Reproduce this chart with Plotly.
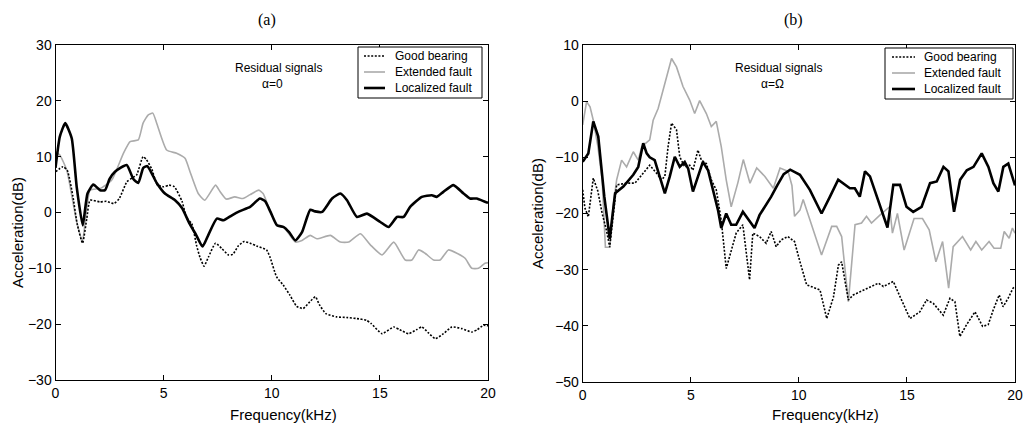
import plotly.graph_objects as go

# ---- (a) residual signals, alpha = 0 ----
fa_good = [0, 0.35, 0.55, 0.8, 1.0, 1.25, 1.45, 1.6, 2.05, 2.35, 2.7, 2.95, 3.3, 3.55, 3.75, 4.05, 4.2,
           4.45, 4.7, 5.0, 5.25, 5.5, 5.85, 6.07, 6.3, 6.53, 6.68, 6.87, 7.07, 7.4, 7.7, 8.0, 8.2, 8.45,
           8.72, 9.0, 9.3, 9.76, 9.92, 10.22, 10.53, 10.84, 11.15, 11.45, 11.76, 12.02, 12.2, 12.5, 13.0,
           13.46, 13.94, 14.38, 14.6, 15.1, 15.64, 15.92, 16.33, 16.69, 16.94, 17.23, 17.56, 17.94,
           18.33, 18.79, 19.25, 19.5, 19.79, 20]
a_good = [7.3, 8.2, 7.5, 3, -2, -5.5, -1, 2.2, 1.9, 2.0, 1.6, 2.5, 5.5, 6.2, 6.7, 10.0, 9.5,
          7.8, 5.0, 4.6, 4.9, 4.6, 2.0, -1, -2, -6, -8, -9.6, -8, -5.5, -6.5, -7.6, -7.5, -6,
          -5.2, -5.5, -6, -6.7, -8, -11.5, -13, -14.8, -16.8, -17.2, -16, -15.1, -16.5, -18.1, -18.7,
          -18.8, -19.0, -19.3, -19.9, -21.7, -20.5, -21.0, -21.7, -21.0, -20.5, -21.5, -22.6, -21.7,
          -20.5, -20.8, -21.4, -21.0, -20.2, -20.3]

fa_ext = [0, 0.2, 0.52, 0.8, 1.0, 1.25, 1.6, 2.06, 2.6, 3.14, 3.45, 3.83, 4.05, 4.29, 4.5, 4.68, 5.14,
          5.6, 5.99, 6.22, 6.6, 6.9, 7.4, 7.6, 7.9, 8.29, 8.67, 9.0, 9.4, 9.6, 9.93, 10.24, 10.55,
          11.09, 11.4, 11.78, 12.09, 12.71, 13.17, 13.56, 14.1, 14.56, 15.1, 15.64, 16.17, 16.48,
          16.79, 17.09, 17.48, 17.79, 18.17, 18.56, 18.94, 19.25, 19.56, 19.86, 20]
a_ext = [10.9, 10.3, 7.6, 2, -2, -5, 4.0, 4.3, 5.8, 10.6, 12.7, 13.0, 16.0, 17.5, 17.8, 16.0, 11.2,
         10.6, 9.7, 7.3, 3.4, 2.2, 4.9, 3.8, 2.4, 2.8, 2.5, 3.2, 4.0, 3.4, 0.2, -2.3, -2.6,
         -5.3, -5.0, -4.1, -4.7, -4.1, -5.3, -5.3, -3.8, -5.8, -7.6, -5.3, -8.5, -8.5,
         -6.7, -7.3, -8.5, -8.5, -6.7, -7.3, -8.2, -10.0, -10.0, -9.1, -9.0]

fa_loc = [0, 0.2, 0.45, 0.75, 0.98, 1.26, 1.48, 1.75, 2.06, 2.29, 2.5, 2.75, 3.29, 3.6, 3.83, 4.06,
          4.25, 4.68, 5.06, 5.53, 5.85, 6.2, 6.5, 6.8, 7.07, 7.46, 7.77, 8.16, 8.5, 9.0, 9.45, 9.7,
          9.93, 10.24, 10.55, 10.8, 11.09, 11.4, 11.78, 12.0, 12.33, 12.79, 13.17, 13.48, 13.94,
          14.4, 15.02, 15.4, 15.79, 16.1, 16.4, 16.94, 17.4, 17.63, 17.94, 18.4, 18.87, 19.17,
          19.48, 19.94, 20]
a_loc = [8.0, 13.6, 16.0, 13.3, 4.6, -2.3, 3.4, 5.0, 4.0, 4.0, 6.0, 7.3, 8.5, 6.0, 5.3, 8.0,
         8.3, 5.3, 3.4, 2.2, 0.8, -2, -4, -6.1, -4, -1.1, -1.4, -0.5, 0.2, 1.0, 2.5, 2.0,
         0.2, -2.3, -2.6, -3.5, -5.0, -3.5, 0.5, 0.2, 0.1, 2.5, 3.4, 2.2, -0.8,
         -0.2, -1.7, -2.6, -0.8, -0.8, 1.0, 2.8, 3.1, 2.8, 3.7, 4.9, 3.4, 2.5,
         2.5, 1.8, 1.8]

# ---- (b) residual signals, alpha = Omega ----
fb_good = [0, 0.1, 0.26, 0.49, 0.7, 0.9, 1.1, 1.25, 1.57, 2.03, 2.42, 2.8, 3.1, 3.41, 3.64, 3.8, 3.95,
           4.11, 4.34, 4.49, 4.72, 4.95, 5.1, 5.33, 5.49, 5.72, 5.95, 6.18, 6.41, 6.64, 6.87, 7.1,
           7.41, 7.72, 7.87, 8.18, 8.49, 8.72, 8.95, 9.18, 9.49, 9.8, 10.03, 10.36, 10.98, 11.29,
           11.6, 11.83, 11.98, 12.29, 12.52, 13.14, 13.68, 13.91, 14.37, 14.68, 15.14, 15.6, 15.91,
           16.22, 16.68, 16.99, 17.22, 17.45, 17.76, 18.15, 18.5, 18.76, 18.99, 19.27, 19.45,
           19.68, 19.91, 20]
b_good = [-15.8, -19, -20.6, -13.7, -16, -20, -23, -26, -14.9, -14.6, -14.6, -12.8, -11.4, -12.8,
          -14, -13.4, -8.1, -3.9, -5.1, -9.9, -11.7, -11.4, -12.3, -8.7, -10.5, -11.1, -14, -15.8,
          -21.2, -29.8, -26.5, -23.5, -22, -31.8, -23.5, -24.1, -25.3, -23.2, -25.9, -24.7, -24.1,
          -25, -28.3, -32.7, -33.6, -38.7, -34.9, -29.2, -28.6, -35.4, -34.5, -33.3, -32.4, -33,
          -32.1, -34.8, -38.7, -37.5, -35.4, -36, -38.1, -35.1, -35.7, -41.9, -39.8, -37.5, -40.1,
          -39.8, -37.2, -34.5, -36.6, -35.1, -33.3, -33]

fb_ext = [0, 0.18, 0.34, 0.49, 0.7, 0.9, 1.05, 1.25, 1.4, 1.57, 1.8, 2.03, 2.34, 2.57, 2.73, 3.1, 3.26,
          3.49, 3.72, 4.11, 4.34, 4.64, 4.95, 5.18, 5.41, 5.72, 5.95, 6.18, 6.41, 6.64, 6.87, 7.18,
          7.43, 7.74, 8.05, 8.43, 8.82, 9.13, 9.5, 9.68, 9.8, 10.05, 10.2, 10.5, 11.05, 11.52,
          11.75, 11.98, 12.29, 12.6, 12.9, 13.13, 13.36, 13.75, 14.0, 14.2, 14.33, 14.56, 14.87,
          15.33, 15.72, 16.03, 16.34, 16.65, 16.93, 17.14, 17.57, 17.95, 18.19, 18.46, 18.8,
          19.03, 19.34, 19.5, 19.73, 19.88, 20]
b_ext = [-4.2, -0.1, -1, -3.4, -8, -14, -26, -26, -19, -14, -10.5, -11.7, -9, -10.5, -8.1, -6.9, -3.4,
         -1.3, 2.0, 7.6, 6.1, 2.6, 0.2, -2.2, 0.1, -2.2, -4.5, -3.6, -8.1, -14, -18.8, -14.5,
         -10.4, -14.6, -11.9, -13.4, -15.5, -11.9, -12.5, -15, -20.5, -19.4, -17.5, -21, -27.4,
         -22.3, -22.3, -24.1, -35.7, -22, -21.7, -20.5, -21.7, -20.3, -19.4, -18.8, -23.5, -20,
         -26.5, -20.9, -20.9, -22.9, -28.6, -25, -33.3, -25.9, -24.1, -26.5, -25, -26.5, -25,
         -26.2, -26.2, -23.2, -24.4, -22.6, -23.5]

fb_loc = [0, 0.26, 0.49, 0.72, 1.0, 1.25, 1.5, 1.88, 2.34, 2.57, 2.8, 2.96, 3.1, 3.33, 3.8, 4.03, 4.26,
          4.49, 4.72, 4.88, 5.1, 5.33, 5.56, 5.8, 6.03, 6.26, 6.41, 6.64, 6.87, 7.1, 7.41, 7.64,
          7.95, 8.18, 8.49, 8.72, 9.0, 9.3, 9.6, 10.05, 10.51, 11.05, 11.44, 11.82, 12.36, 12.59,
          12.82, 13.06, 13.29, 13.75, 14.1, 14.37, 14.68, 14.98, 15.29, 15.68, 16.07, 16.38, 16.69,
          16.92, 17.18, 17.46, 17.77, 18.08, 18.46, 18.77, 19.0, 19.23, 19.46, 19.69, 19.92, 20]
b_loc = [-10.8, -9.3, -3.6, -6.3, -17, -24.5, -16.4, -15.2, -13.1, -11.7, -7.5, -9.3, -10, -10.5,
         -16.4, -13.4, -9.9, -11.7, -10.8, -12, -16.1, -13.4, -10.8, -12.3, -15.8, -19.4, -22.6,
         -20, -22, -22, -19.7, -20.9, -22.6, -20.3, -18.5, -17.0, -15, -13, -12.2, -13.1, -15.8,
         -20, -17, -14, -15.5, -15.5, -17, -12.5, -13.4, -18.8, -22.5, -14.9, -14.9, -18.8, -19.7,
         -18.8, -14.6, -14.3, -11.7, -12.5, -19.7, -14, -12.3, -11.7, -9.3, -11.7, -14.6, -16.1,
         -11.7, -11.1, -14, -15]

series_names = ["Good bearing", "Extended fault", "Localized fault"]
panel_titles = ["(a)", "(b)"]
panel_notes = [("Residual signals", "\u03b1=0"), ("Residual signals", "\u03b1=\u03a9")]
x_title = "Frequency(kHz)"
y_title = "Acceleration(dB)"
x_ticks = [0, 5, 10, 15, 20]
y_ticks_a = [-30, -20, -10, 0, 10, 20, 30]
y_ticks_b = [-50, -40, -30, -20, -10, 0, 10]

W, H = 1026, 423
SANS = "Liberation Sans, Arial, sans-serif"
SERIF = "Liberation Serif, Times New Roman, serif"
GRAY = "#ababab"


def px(x):
    return x / W


def py(y):
    return 1 - y / H


fig = go.Figure()

# panel (a) spectra are smooth, panel (b) spectra are piecewise linear
panels = [
    dict(x="x", y="y", shape="spline", data=[(fa_good, a_good), (fa_ext, a_ext), (fa_loc, a_loc)]),
    dict(x="x2", y="y2", shape="linear", data=[(fb_good, b_good), (fb_ext, b_ext), (fb_loc, b_loc)]),
]
styles = [
    dict(color="black", width=1.6, dash="2px,1.6px"),
    dict(color=GRAY, width=1.6, dash="solid"),
    dict(color="black", width=2.6, dash="solid"),
]
draw_order = [1, 0, 2]  # grey under the dotted line, thick black on top

for p in panels:
    for k in draw_order:
        fx, fy = p["data"][k]
        line = dict(styles[k], shape=p["shape"])
        if p["shape"] == "spline":
            line["smoothing"] = 0.5
        fig.add_trace(go.Scatter(
            x=fx, y=fy, mode="lines", name=series_names[k],
            line=line, xaxis=p["x"], yaxis=p["y"], showlegend=False,
        ))

axis_common = dict(
    showline=True, linecolor="black", linewidth=1, mirror="ticks",
    ticks="inside", ticklen=5, tickwidth=1, tickcolor="black",
    showgrid=False, zeroline=False, automargin=False,
    tickfont=dict(family=SANS, size=14, color="black"),
)

fig.update_layout(
    width=W, height=H, template="none",
    paper_bgcolor="white", plot_bgcolor="white",
    margin=dict(l=0, r=0, t=0, b=0),
    showlegend=False,
    xaxis=dict(domain=[px(55.5), px(488)], range=[0, 20], tickvals=x_ticks, anchor="y", **axis_common),
    yaxis=dict(domain=[py(380), py(45)], range=[-30, 30], tickvals=y_ticks_a, anchor="x", **axis_common),
    xaxis2=dict(domain=[px(582.7), px(1015)], range=[0, 20], tickvals=x_ticks, anchor="y2", **axis_common),
    yaxis2=dict(domain=[py(382), py(45)], range=[-50, 10], tickvals=y_ticks_b, anchor="x2", **axis_common),
)


def text(x, y, s, font, size, angle=0, xanchor="center"):
    fig.add_annotation(x=px(x), y=py(y), xref="paper", yref="paper", showarrow=False,
                       text=s, textangle=angle, xanchor=xanchor, yanchor="middle",
                       font=dict(family=font, size=size, color="black"))


# panel labels, axis titles, notes and legend boxes
layout_pos = [
    dict(title=267, note=278, xt=(283, 414), yt=(17, 233),
         box=(358, 47, 482, 98), sample=(364, 385), label_x=393, rows=(56, 72, 88)),
    dict(title=793, note=778, xt=(825, 414), yt=(538, 214),
         box=(885, 48, 1013, 99), sample=(892, 915), label_x=922, rows=(57, 73, 89)),
]
for i, L in enumerate(layout_pos):
    text(L["title"], 20, panel_titles[i], SERIF, 16)
    text(L["note"], 68, panel_notes[i][0], SANS, 12)
    text(L["note"] - 6, 84, panel_notes[i][1], SANS, 12)
    text(L["xt"][0], L["xt"][1], x_title, SANS, 15)
    text(L["yt"][0], L["yt"][1], y_title, SANS, 15, angle=-90)

    x0, y0, x1, y1 = L["box"]
    fig.add_shape(type="rect", xref="paper", yref="paper",
                  x0=px(x0), x1=px(x1), y0=py(y1), y1=py(y0),
                  line=dict(color="black", width=1), fillcolor="white", layer="above")
    for k in range(3):
        ry = L["rows"][k]
        fig.add_shape(type="line", xref="paper", yref="paper",
                      x0=px(L["sample"][0]), x1=px(L["sample"][1]), y0=py(ry), y1=py(ry),
                      line=styles[k], layer="above")
        text(L["label_x"], ry, series_names[k], SANS, 12, xanchor="left")

fig.write_html("out.html")
